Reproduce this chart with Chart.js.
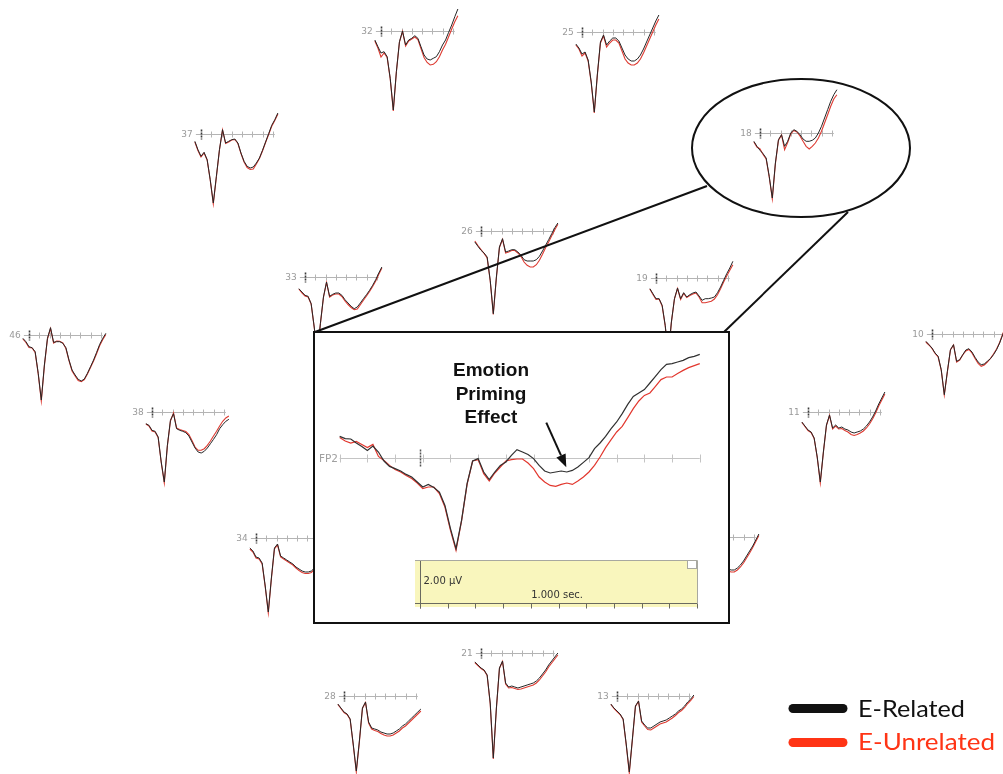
<!DOCTYPE html>
<html>
<head>
<meta charset="utf-8">
<title>Emotion priming ERP montage</title>
<script src="https://cdn.jsdelivr.net/npm/chart.js@4/dist/chart.umd.min.js"></script>
<style>
  html, body { margin: 0; padding: 0; background: #fff; }
  #stage { position: relative; width: 1003px; height: 774px; overflow: hidden; background: #fff; }
  canvas.mini { position: absolute; z-index: 1; }
  svg.layer { position: absolute; left: 0; top: 0; }
  #links { z-index: 2; }
  #inset { position: absolute; left: 313px; top: 331px; width: 417px; height: 293px;
           border: 2px solid #111; box-sizing: border-box; background: #fff; z-index: 3; }
  #inset canvas { position: absolute; left: 0; top: 0; }
  #notes { z-index: 4; }
</style>
</head>
<body>
<div id="stage">
  <svg id="links" class="layer" width="1003" height="774">
    <ellipse cx="801" cy="148" rx="109" ry="69" fill="none" stroke="#111" stroke-width="2"/>
    <line x1="315" y1="332" x2="707" y2="186" stroke="#111" stroke-width="2"/>
    <line x1="724" y1="332" x2="848" y2="212" stroke="#111" stroke-width="2"/>
  </svg>
  <div id="inset"><canvas id="fp2" width="413" height="289"></canvas></div>
  <svg id="notes" class="layer" width="1003" height="774">
    <g font-family="'Liberation Sans', Arial, sans-serif" font-weight="bold" font-size="19" fill="#111" text-anchor="middle">
      <text x="491" y="376">Emotion</text>
      <text x="491" y="400">Priming</text>
      <text x="491" y="423">Effect</text>
    </g>
    <line x1="546.3" y1="422.7" x2="561" y2="455.4" stroke="#111" stroke-width="2"/>
    <polygon points="566.3,467.3 556.4,457.5 565.6,453.4" fill="#111"/>
    <line x1="793" y1="708.5" x2="843" y2="708.5" stroke="#111" stroke-width="9" stroke-linecap="round"/>
    <line x1="793" y1="742.5" x2="843" y2="742.5" stroke="#ff3415" stroke-width="9" stroke-linecap="round"/>
    <g font-family="Lato, 'Open Sans', sans-serif" font-size="24">
      <text x="858" y="717" fill="#111" textLength="107" lengthAdjust="spacingAndGlyphs">E-Related</text>
      <text x="858" y="750" fill="#ff3415" textLength="137" lengthAdjust="spacingAndGlyphs">E-Unrelated</text>
    </g>
  </svg>
</div>
<script>
// ---- time base (ms) and tick marks ----
const SMALL_TIMES = [-60,-30,0,30,60,90,120,150,180,210,240,270,300,330,360,390,420,450,480,510,540,570,600,630,660,690,720,750];
const SMALL_TICKS = [100,200,300,400,500,600,700];

const FP2_TIMES = [-290,-270,-250,-230,-210,-190,-170,-150,-130,-110,-90,-70,-50,-30,-10,10,30,50,70,90,110,130,150,170,190,210,230,250,270,290,310,330,350,370,390,410,430,450,470,490,510,530,550,570,590,610,630,650,670,690,710,730,750,770,790,810,830,850,870,890,910,930,950,970,990,1010];
const FP2_TICKS = [-290,-190,-90,10,110,210,310,410,510,610,710,810,910,1010];
const SCALE_BAR_TICKS = [0,100,200,300,400,500,600,700,800,900,1000];

// ---- FP2 grand averages (µV) ----
const fp2Related = [1.08,0.97,0.95,0.75,0.58,0.38,0.6,0.3,-0.15,-0.42,-0.53,-0.65,-0.82,-0.95,-1.2,-1.45,-1.32,-1.48,-1.7,-2.37,-3.53,-4.53,-3.12,-1.28,-0.15,-0.03,-0.7,-1.08,-0.7,-0.37,-0.2,0.13,0.42,0.3,0.18,-0.03,-0.37,-0.65,-0.75,-0.7,-0.65,-0.7,-0.62,-0.45,-0.22,0.02,0.47,0.75,1.08,1.47,1.8,2.22,2.68,3.08,3.25,3.42,3.75,4.08,4.42,4.68,4.72,4.8,4.88,5.02,5.08,5.18];
const fp2Unrelated = [1.02,0.85,0.75,0.83,0.68,0.52,0.68,0.08,-0.12,-0.37,-0.58,-0.7,-0.87,-1.03,-1.25,-1.53,-1.45,-1.45,-1.78,-2.45,-3.62,-4.62,-3.15,-1.32,-0.15,-0.08,-0.78,-1.15,-0.75,-0.45,-0.15,-0.08,-0.05,-0.05,-0.25,-0.53,-0.95,-1.2,-1.37,-1.42,-1.32,-1.25,-1.32,-1.15,-0.95,-0.7,-0.37,0.05,0.52,0.92,1.3,1.58,2.02,2.47,2.85,3.13,3.25,3.58,3.92,4.05,4.05,4.22,4.38,4.52,4.62,4.72];

// ---- per-electrode grand averages (µV) ----
const e32Related   = [-0.9,-1.57,-2.2,-2.07,-2.57,-4.73,-7.9,-4.07,-1.07,0,-1.4,-0.9,-0.73,-0.47,-0.73,-1.57,-2.4,-2.8,-2.9,-2.73,-2.57,-2.07,-1.4,-0.9,-0.13,0.6,1.43,2.2];
const e32Unrelated = [-1.0,-1.7,-2.6,-2.2,-2.65,-4.8,-8.0,-4.1,-1.1,-0.05,-1.5,-1.0,-0.8,-0.6,-0.85,-1.75,-2.65,-3.15,-3.4,-3.33,-3.07,-2.57,-1.9,-1.33,-0.57,0.2,0.93,1.53];
const e25Related   = [-1.2,-1.6,-2.2,-2.0,-2.8,-5.0,-8.0,-4.2,-1.0,-0.3,-1.3,-0.9,-0.6,-0.6,-0.9,-1.6,-2.3,-2.7,-2.9,-2.9,-2.7,-2.3,-1.7,-1.0,-0.3,0.4,1.1,1.7];
const e25Unrelated = [-1.3,-1.7,-2.4,-2.1,-2.9,-5.1,-8.1,-4.3,-1.1,-0.4,-1.5,-1.1,-0.8,-0.8,-1.1,-1.9,-2.7,-3.1,-3.3,-3.3,-3.1,-2.7,-2.1,-1.4,-0.7,0.0,0.7,1.3];
const e37Related   = [-0.73,-1.57,-2.23,-1.83,-2.57,-4.57,-6.9,-4.23,-1.57,0.43,-0.9,-0.73,-0.57,-0.5,-0.9,-1.9,-2.73,-3.23,-3.4,-3.3,-2.9,-2.4,-1.63,-0.8,0.03,0.87,1.43,2.1];
const e37Unrelated = [-0.8,-1.65,-2.3,-1.9,-2.6,-4.6,-7.0,-4.3,-1.6,0.4,-0.95,-0.8,-0.6,-0.55,-0.95,-1.95,-2.8,-3.35,-3.55,-3.5,-3.0,-2.45,-1.7,-0.85,-0.05,0.78,1.35,2.0];
const e18Related   = [-0.83,-1.33,-1.73,-2.07,-2.5,-4.33,-6.5,-3.0,-0.67,-0.17,-1.33,-0.83,0,0.33,0.17,-0.17,-0.6,-0.83,-0.83,-0.73,-0.5,0,0.67,1.5,2.33,3.17,3.83,4.33];
const e18Unrelated = [-0.9,-1.4,-1.6,-2.15,-2.6,-4.4,-6.6,-3.1,-0.75,-0.2,-1.67,-0.95,-0.1,0.25,0.1,-0.3,-0.83,-1.33,-1.6,-1.33,-1.0,-0.5,0.17,1.0,1.83,2.67,3.4,3.83];
const e26Related   = [-1.1,-1.53,-1.93,-2.2,-2.6,-4.93,-8.27,-4.6,-1.6,-0.77,-2.1,-2.0,-1.87,-1.87,-2.1,-2.43,-2.87,-3.0,-3.0,-3.0,-2.87,-2.53,-2.0,-1.43,-0.87,-0.27,0.33,0.8];
const e26Unrelated = [-1.0,-1.45,-1.85,-2.25,-2.7,-5.0,-8.35,-4.7,-1.65,-0.85,-2.2,-2.1,-1.95,-1.95,-2.2,-2.55,-3.1,-3.43,-3.6,-3.6,-3.37,-2.93,-2.33,-1.67,-1.1,-0.47,0.13,0.67];
const e33Related   = [-1.17,-1.5,-1.83,-1.93,-2.67,-5.0,-7.67,-4.67,-2.0,-0.5,-1.93,-1.73,-1.6,-1.6,-1.83,-2.27,-2.6,-2.93,-3.17,-3.0,-2.6,-2.17,-1.77,-1.33,-0.83,-0.27,0.4,1.0];
const e33Unrelated = [-1.2,-1.6,-1.9,-2.0,-2.7,-5.05,-7.7,-4.7,-2.05,-0.55,-2.0,-1.8,-1.7,-1.7,-1.95,-2.4,-2.75,-3.05,-3.27,-3.2,-2.77,-2.33,-1.9,-1.45,-0.95,-0.4,0.28,0.9];
const e19Related   = [-1.07,-1.57,-2.07,-2.07,-2.73,-4.73,-7.73,-4.4,-2.07,-1.0,-2.07,-1.47,-1.9,-1.67,-1.5,-1.4,-1.8,-2.23,-2.07,-2.07,-2.0,-1.9,-1.47,-0.9,-0.23,0.43,1.0,1.67];
const e19Unrelated = [-1.1,-1.65,-2.15,-2.1,-2.8,-4.8,-7.8,-4.45,-2.1,-1.05,-2.15,-1.55,-1.95,-1.75,-1.6,-1.5,-1.9,-2.47,-2.47,-2.4,-2.33,-2.1,-1.67,-1.07,-0.4,0.2,0.77,1.33];
const e46Related   = [-0.33,-0.67,-1.17,-1.27,-1.67,-3.83,-6.5,-3.0,-0.33,0.73,-0.73,-0.67,-0.67,-0.83,-1.27,-2.5,-3.5,-4.0,-4.43,-4.6,-4.4,-3.83,-3.17,-2.5,-1.73,-0.93,-0.33,0.17];
const e46Unrelated = [-0.4,-0.75,-1.25,-1.3,-1.75,-3.9,-6.6,-3.1,-0.4,0.65,-0.8,-0.6,-0.62,-0.78,-1.35,-2.55,-3.6,-4.1,-4.55,-4.67,-4.45,-3.9,-3.25,-2.6,-1.85,-1.05,-0.45,0.05];
const e10Related   = [-0.73,-1.07,-1.4,-1.9,-2.23,-3.57,-6.07,-3.73,-1.57,-1.07,-2.73,-2.57,-2.07,-1.6,-1.47,-1.8,-2.33,-2.8,-3.07,-3.0,-2.73,-2.47,-2.07,-1.57,-0.9,-0.07,0.77,1.6];
const e10Unrelated = [-0.8,-1.1,-1.45,-1.95,-2.3,-3.6,-6.1,-3.8,-1.6,-1.1,-2.8,-2.6,-2.1,-1.7,-1.55,-1.9,-2.45,-2.95,-3.23,-3.1,-2.8,-2.45,-2.0,-1.5,-0.85,0.0,0.8,1.6];
const e38Related   = [-1.17,-1.33,-1.83,-1.93,-2.5,-5.0,-7.0,-3.33,-0.83,-0.17,-1.67,-1.83,-1.93,-2.07,-2.4,-3.0,-3.6,-4.0,-4.1,-3.93,-3.6,-3.17,-2.73,-2.27,-1.67,-1.27,-0.93,-0.73];
const e38Unrelated = [-1.2,-1.4,-1.9,-2.0,-2.55,-5.05,-7.1,-3.4,-0.9,-0.1,-1.6,-1.75,-1.85,-1.95,-2.25,-2.85,-3.5,-3.83,-3.83,-3.67,-3.33,-2.9,-2.4,-1.93,-1.4,-0.93,-0.6,-0.4];
const e11Related   = [-1.0,-1.4,-1.8,-2.0,-2.6,-4.5,-7.0,-4.0,-1.3,-0.3,-1.6,-1.3,-1.6,-1.5,-1.7,-1.8,-2.0,-2.1,-2.0,-1.9,-1.7,-1.4,-1.0,-0.5,0.1,0.8,1.4,2.0];
const e11Unrelated = [-1.05,-1.45,-1.85,-2.05,-2.65,-4.55,-7.1,-4.05,-1.35,-0.35,-1.7,-1.4,-1.7,-1.65,-1.85,-2.0,-2.25,-2.35,-2.25,-2.1,-1.9,-1.6,-1.2,-0.7,-0.1,0.6,1.2,1.8];
const e34Related   = [-1.0,-1.3,-1.9,-2.0,-2.5,-4.8,-7.4,-4.0,-1.0,-0.6,-1.8,-2.0,-2.2,-2.4,-2.6,-2.9,-3.1,-3.3,-3.4,-3.4,-3.3,-3.0,-2.6,-2.1,-1.5,-0.9,-0.3,0.3];
const e34Unrelated = [-1.1,-1.4,-2.0,-2.1,-2.6,-4.9,-7.5,-4.1,-1.1,-0.7,-1.9,-2.1,-2.3,-2.5,-2.7,-3.0,-3.25,-3.45,-3.55,-3.55,-3.45,-3.15,-2.75,-2.25,-1.65,-1.05,-0.45,0.15];
const e12Related   = [-1.0,-1.4,-1.8,-2.0,-2.5,-4.6,-7.2,-4.0,-1.2,-0.5,-1.8,-2.0,-2.2,-2.4,-2.6,-2.8,-3.0,-3.2,-3.3,-3.3,-3.1,-2.8,-2.4,-1.9,-1.4,-0.9,-0.3,0.3];
const e12Unrelated = [-1.05,-1.45,-1.85,-2.05,-2.55,-4.65,-7.25,-4.05,-1.25,-0.55,-1.9,-2.1,-2.3,-2.5,-2.75,-3.0,-3.2,-3.4,-3.5,-3.5,-3.3,-3.0,-2.6,-2.1,-1.6,-1.05,-0.45,0.15];
const e21Related   = [-0.9,-1.2,-1.5,-1.7,-2.2,-5.0,-10.5,-5.5,-1.5,-0.8,-3.0,-3.4,-3.3,-3.4,-3.5,-3.4,-3.3,-3.2,-3.1,-3.0,-2.8,-2.5,-2.1,-1.7,-1.2,-0.8,-0.4,0.0];
const e21Unrelated = [-0.95,-1.25,-1.55,-1.75,-2.25,-5.1,-10.6,-5.6,-1.55,-0.85,-3.1,-3.5,-3.45,-3.55,-3.65,-3.6,-3.5,-3.4,-3.3,-3.2,-3.0,-2.7,-2.3,-1.9,-1.4,-1.0,-0.6,-0.2];
const e28Related   = [-0.8,-1.2,-1.6,-1.8,-2.3,-4.8,-7.5,-4.5,-1.2,-0.6,-2.6,-3.2,-3.3,-3.4,-3.6,-3.7,-3.8,-3.8,-3.7,-3.5,-3.3,-3.0,-2.8,-2.5,-2.2,-1.9,-1.6,-1.3];
const e28Unrelated = [-0.85,-1.25,-1.65,-1.85,-2.35,-4.9,-7.6,-4.6,-1.25,-0.65,-2.7,-3.3,-3.45,-3.55,-3.75,-3.9,-4.0,-4.0,-3.9,-3.7,-3.5,-3.2,-3.0,-2.7,-2.4,-2.1,-1.8,-1.5];
const e13Related   = [-0.8,-1.2,-1.5,-1.8,-2.3,-4.8,-7.6,-4.3,-1.0,-0.5,-2.5,-2.9,-3.2,-3.2,-3.0,-2.8,-2.6,-2.5,-2.4,-2.2,-2.0,-1.8,-1.5,-1.3,-1.0,-0.6,-0.3,0.1];
const e13Unrelated = [-0.85,-1.25,-1.55,-1.85,-2.35,-4.9,-7.7,-4.4,-1.05,-0.55,-2.6,-3.0,-3.35,-3.4,-3.2,-3.0,-2.8,-2.7,-2.6,-2.4,-2.2,-1.95,-1.65,-1.45,-1.15,-0.75,-0.45,-0.05];

// ---- montage: electrode label, its waveforms, and where its onset sits on the page ----
const montage = [
  { label: '32', related: e32Related, unrelated: e32Unrelated, x: 381, y: 31 },
  { label: '25', related: e25Related, unrelated: e25Unrelated, x: 582, y: 32 },
  { label: '37', related: e37Related, unrelated: e37Unrelated, x: 201, y: 134 },
  { label: '18', related: e18Related, unrelated: e18Unrelated, x: 760, y: 133 },
  { label: '26', related: e26Related, unrelated: e26Unrelated, x: 481, y: 231 },
  { label: '33', related: e33Related, unrelated: e33Unrelated, x: 305, y: 277 },
  { label: '19', related: e19Related, unrelated: e19Unrelated, x: 656, y: 278 },
  { label: '46', related: e46Related, unrelated: e46Unrelated, x: 29,  y: 335 },
  { label: '10', related: e10Related, unrelated: e10Unrelated, x: 932, y: 334 },
  { label: '38', related: e38Related, unrelated: e38Unrelated, x: 152, y: 412 },
  { label: '11', related: e11Related, unrelated: e11Unrelated, x: 808, y: 412 },
  { label: '34', related: e34Related, unrelated: e34Unrelated, x: 256, y: 538 },
  { label: '12', related: e12Related, unrelated: e12Unrelated, x: 682, y: 537 },
  { label: '21', related: e21Related, unrelated: e21Unrelated, x: 481, y: 653 },
  { label: '28', related: e28Related, unrelated: e28Unrelated, x: 344, y: 696 },
  { label: '13', related: e13Related, unrelated: e13Unrelated, x: 617, y: 696 }
];

const RELATED_COLOR = '#262626';
const UNRELATED_COLOR = '#dd3a31';

function pairs(times, values) {
  return values.map((v, i) => ({ x: times[i], y: v }));
}

// Baseline with 100 ms ticks, onset marker and electrode name
const baselinePlugin = {
  id: 'erpBaseline',
  beforeDatasetsDraw(chart, args, o) {
    const { ctx, scales: { x, y } } = chart;
    const y0 = Math.round(y.getPixelForValue(0)) + 0.5;
    ctx.save();
    ctx.lineWidth = 1;
    ctx.strokeStyle = o.axisColor;
    ctx.beginPath();
    ctx.moveTo(x.getPixelForValue(o.from), y0);
    ctx.lineTo(x.getPixelForValue(o.to), y0);
    o.ticks.forEach(t => {
      const px = Math.round(x.getPixelForValue(t)) + 0.5;
      ctx.moveTo(px, y0 - o.tick);
      ctx.lineTo(px, y0 + o.tick);
    });
    ctx.stroke();
    const mx = Math.round(x.getPixelForValue(0)) + 0.5;
    ctx.strokeStyle = o.markerColor;
    ctx.lineWidth = o.markerWidth;
    ctx.setLineDash(o.markerDash || []);
    ctx.beginPath();
    ctx.moveTo(mx, y0 - o.marker);
    ctx.lineTo(mx, y0 + o.marker);
    ctx.stroke();
    ctx.setLineDash([]);
    ctx.fillStyle = o.labelColor;
    ctx.font = o.font;
    ctx.textAlign = 'right';
    ctx.textBaseline = 'middle';
    ctx.fillText(o.label, x.getPixelForValue(o.labelAt), y0 + 0.5);
    ctx.restore();
  }
};

// Calibration box (2 µV / 1 s) drawn on the FP2 scales
const scaleBarPlugin = {
  id: 'scaleBar',
  beforeDatasetsDraw(chart, args, o) {
    const { ctx, scales: { x, y } } = chart;
    const left = x.getPixelForValue(o.left), right = x.getPixelForValue(o.right);
    const top = y.getPixelForValue(o.top), bottom = y.getPixelForValue(o.bottom);
    const ruler = Math.round(y.getPixelForValue(o.ruler)) + 0.5;
    const x0 = Math.round(x.getPixelForValue(0)) + 0.5;
    ctx.save();
    ctx.fillStyle = o.fill;
    ctx.fillRect(left, top, right - left, bottom - top);
    ctx.strokeStyle = o.edge;
    ctx.lineWidth = 1;
    ctx.beginPath();
    ctx.moveTo(left, Math.round(top) + 0.5);
    ctx.lineTo(Math.round(right) + 0.5, Math.round(top) + 0.5);
    ctx.lineTo(Math.round(right) + 0.5, ruler);
    ctx.stroke();
    // small corner box
    ctx.fillStyle = '#fff';
    ctx.fillRect(Math.round(right) - 9, Math.round(top) + 1, 8, 7);
    ctx.strokeRect(Math.round(right) - 9.5, Math.round(top) + 0.5, 9, 8);
    // ruler
    ctx.strokeStyle = o.ink;
    ctx.beginPath();
    ctx.moveTo(left, ruler);
    ctx.lineTo(right, ruler);
    o.ticks.forEach(t => {
      const px = Math.round(x.getPixelForValue(t)) + 0.5;
      ctx.moveTo(px, ruler);
      ctx.lineTo(px, ruler + 5);
    });
    ctx.moveTo(x0, Math.round(top) + 1);
    ctx.lineTo(x0, ruler + 5);
    ctx.stroke();
    ctx.fillStyle = '#333';
    ctx.font = '10px "DejaVu Sans", sans-serif';
    ctx.textBaseline = 'alphabetic';
    ctx.textAlign = 'left';
    ctx.fillText(o.ampText, x0 + 3, y.getPixelForValue(o.ampAt));
    ctx.textAlign = 'center';
    ctx.fillText(o.timeText, x.getPixelForValue(o.timeCenter), y.getPixelForValue(o.timeAt));
    ctx.restore();
  }
};

// ---- small electrode plots ----
const MINI_W = 104, MINI_H = 175, MINI_OX = 22, MINI_OY = 60;
const MINI_PX_PER_MS = 0.1025, MINI_PX_PER_UV = 10;
const stage = document.getElementById('stage');
const links = document.getElementById('links');

montage.forEach(site => {
  const cv = document.createElement('canvas');
  cv.width = MINI_W;
  cv.height = MINI_H;
  cv.className = 'mini';
  cv.style.left = (site.x - MINI_OX) + 'px';
  cv.style.top = (site.y - MINI_OY) + 'px';
  stage.insertBefore(cv, links);
  new Chart(cv, {
    type: 'line',
    data: {
      datasets: [
        { label: 'E-Related', data: pairs(SMALL_TIMES, site.related), borderColor: RELATED_COLOR,
          borderWidth: 1, pointRadius: 0, tension: 0, fill: false },
        { label: 'E-Unrelated', data: pairs(SMALL_TIMES, site.unrelated), borderColor: UNRELATED_COLOR,
          borderWidth: 1.1, pointRadius: 0, tension: 0, fill: false }
      ]
    },
    options: {
      responsive: false, animation: false, events: [], devicePixelRatio: 1,
      layout: { padding: 0 },
      scales: {
        x: { type: 'linear', display: false, min: -MINI_OX / MINI_PX_PER_MS, max: (MINI_W - MINI_OX) / MINI_PX_PER_MS },
        y: { type: 'linear', display: false, min: -(MINI_H - MINI_OY) / MINI_PX_PER_UV, max: MINI_OY / MINI_PX_PER_UV }
      },
      plugins: {
        legend: { display: false }, tooltip: { enabled: false },
        erpBaseline: {
          label: site.label, labelAt: -80, from: -50, to: 720, ticks: SMALL_TICKS, tick: 3,
          marker: 5, markerWidth: 1.6, markerColor: '#3a3a3a', markerDash: [2, 1],
          axisColor: '#b4b4b4', labelColor: '#9a9a9a', font: '9px "DejaVu Sans", sans-serif'
        }
      }
    },
    plugins: [baselinePlugin]
  });
});

// ---- magnified FP2 panel ----
const FP2_W = 413, FP2_H = 289, FP2_OX = 105, FP2_OY = 125;
const FP2_PX_PER_MS = 0.277, FP2_PX_PER_UV = 20;

new Chart(document.getElementById('fp2'), {
  type: 'line',
  data: {
    datasets: [
      { label: 'E-Related', data: pairs(FP2_TIMES, fp2Related), borderColor: '#303030',
        borderWidth: 1.2, pointRadius: 0, tension: 0, fill: false },
      { label: 'E-Unrelated', data: pairs(FP2_TIMES, fp2Unrelated), borderColor: '#e2372e',
        borderWidth: 1.2, pointRadius: 0, tension: 0, fill: false }
    ]
  },
  options: {
    responsive: false, animation: false, events: [], devicePixelRatio: 1,
    layout: { padding: 0 },
    scales: {
      x: { type: 'linear', display: false, min: -FP2_OX / FP2_PX_PER_MS, max: (FP2_W - FP2_OX) / FP2_PX_PER_MS },
      y: { type: 'linear', display: false, min: -(FP2_H - FP2_OY) / FP2_PX_PER_UV, max: FP2_OY / FP2_PX_PER_UV }
    },
    plugins: {
      legend: { display: false }, tooltip: { enabled: false },
      erpBaseline: {
        label: 'FP2', labelAt: -296, from: -290, to: 1010, ticks: FP2_TICKS, tick: 4,
        marker: 9, markerWidth: 1.5, markerColor: '#555', markerDash: [2, 1],
        axisColor: '#c4c4c4', labelColor: '#a0a0a0', font: '10.5px "DejaVu Sans", sans-serif'
      },
      scaleBar: {
        left: -18, right: 1000, top: -5.1, bottom: -7.45, ruler: -7.25,
        ticks: SCALE_BAR_TICKS, fill: '#f9f6bd', edge: '#a8a8a0', ink: '#6a6a60',
        ampText: '2.00 µV', ampAt: -6.3, timeText: '1.000 sec.', timeCenter: 495, timeAt: -7.0
      }
    }
  },
  plugins: [scaleBarPlugin, baselinePlugin]
});
</script>
</body>
</html>
